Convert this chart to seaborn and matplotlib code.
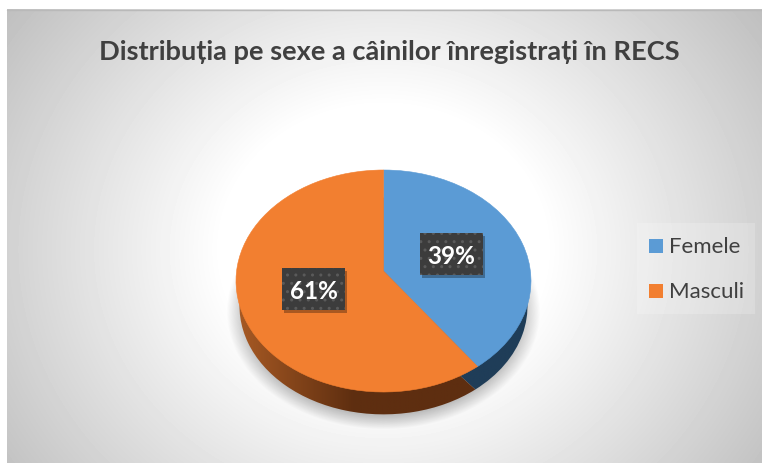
import numpy as np
import seaborn as sns
import matplotlib.pyplot as plt
from matplotlib.patches import PathPatch, Rectangle
from matplotlib.path import Path

# Datos del grafico
categorias = ['Femele', 'Masculi']
valores = [39, 61]
titulo = 'Distribuția pe sexe a câinilor înregistrați în RECS'

colores = sns.color_palette(['#5B9BD5', '#F27F30'])
W, H = 762, 464

sns.set_theme(style='white')
plt.rcParams['font.family'] = ['Lato', 'Open Sans', 'DejaVu Sans']
plt.rcParams['hatch.linewidth'] = 1.0

fig = plt.figure(figsize=(W / 100, H / 100), dpi=100, facecolor='white')

# Fondo con degradado radial
bg = fig.add_axes([0, 0, 1, 1])
bg.axis('off')
xx, yy = np.meshgrid(np.arange(7, W), np.arange(10, H))
t = np.sqrt(((xx - 383) / 385) ** 2 + ((yy - 250) / 340) ** 2)
g = 1 - 0.25 * np.clip((t - 0.42) / 0.786, 0, 1)
bg.imshow(g, extent=[7, W, H, 10], cmap='gray', vmin=0, vmax=1, aspect='auto', zorder=0)
bg.plot([7, W], [10.5, 10.5], color='#b9b9b9', lw=1, zorder=1)

# Sombra suave debajo de la torta
sx, sy = np.meshgrid(np.arange(200, 560), np.arange(250, 450))
d = np.sqrt(((sx - 383) / 157) ** 2 + ((sy - 312) / 118) ** 2)
sombra = np.zeros(d.shape + (4,))
sombra[..., 3] = 0.25 * np.clip((1.0 - d) / 0.12, 0, 1) * np.clip((sy - 262) / 30, 0, 1)
bg.imshow(sombra, extent=[200, 560, 450, 250], aspect='auto', zorder=2)
bg.set_xlim(0, W)
bg.set_ylim(H, 0)

# Torta: elipse superior, rx=147.5 ry=111
cx, cy, rx, ry = 383.5, 282, 147.5, 111
ax = fig.add_axes([(cx - rx) / W, 1 - (cy + ry) / H, 2 * rx / W, 2 * ry / H])
ax.patch.set_alpha(0)

# Pared lateral: elipse inferior algo mas estrecha
lados, _ = ax.pie(valores, colors=colores, startangle=90, counterclock=False,
                  center=(0, -25 / ry), radius=144 / rx, wedgeprops={'clip_on': False, 'lw': 0})
caras, _ = ax.pie(valores, colors=colores, startangle=90, counterclock=False,
                  radius=1, wedgeprops={'clip_on': False, 'lw': 0})
ax.set_aspect('auto')

gx = np.linspace(-1, 1, 300)[None, :]
naranja = np.interp(gx, [-1, -0.2, 1], [0, 1, 1])
azul = np.full(gx.shape, 1.0)
tonos = [(azul, '#1F3D58', '#1F3D58'), (naranja, '#A85A24', '#5E2E10')]
for lado, (grad, c0, c1) in zip(lados, tonos):
    cmap = sns.blend_palette([c0, c1], as_cmap=True)
    im = ax.imshow(grad, extent=[-1, 1, -1.3, 1], cmap=cmap, vmin=0, vmax=1,
                   aspect='auto', zorder=1)
    im.set_clip_box(fig.bbox)
    im.set_clip_path(lado)
    lado.set_visible(False)
ax.set_xlim(-1, 1)
ax.set_ylim(-1, 1)

# Cara superior con el vertice desplazado (perspectiva)
vertice = (0, 10 / ry)
for cara, color in zip(caras, colores):
    p = cara.get_path()
    v = cara.get_patch_transform().transform(p.vertices)
    v[np.all(np.isclose(v, 0, atol=1e-9), axis=1)] = vertice
    ax.add_patch(PathPatch(Path(v, p.codes), fc=color, ec=color, lw=0.4, zorder=3, clip_on=False))
    cara.set_visible(False)

# Etiquetas de datos
over = fig.add_axes([0, 0, 1, 1])
over.set_xlim(0, W)
over.set_ylim(H, 0)
over.axis('off')
over.patch.set_alpha(0)
posiciones = [(420, 234), (282, 269)]
for val, (x0, y0) in zip(valores, posiciones):
    over.add_patch(Rectangle((x0 + 2, y0 + 3), 63, 42, fc='black', alpha=0.3, lw=0, zorder=4))
    over.add_patch(Rectangle((x0, y0), 63, 42, fc='#3C3C3C', ec='#5A5A5A', hatch='..', lw=0, zorder=5))
    over.text(x0 + 31.5, y0 + 23, f'{val}%', color='white', fontsize=17.5, fontweight='bold',
              ha='center', va='center', zorder=6)

over.text(389, 52, titulo, color='#404040', fontsize=19.6, fontweight='bold', ha='center', va='center')

# Leyenda
over.add_patch(Rectangle((637, 224), 118, 91, fc='white', alpha=0.2, lw=0, zorder=1))
for i, (nombre, color) in enumerate(zip(categorias, colores)):
    y = 247 + 45 * i
    over.add_patch(Rectangle((649, y - 7), 14, 14, fc=color, lw=0, zorder=2))
    over.text(669, y, nombre, color='#404040', fontsize=16, ha='left', va='center', zorder=2)

fig.savefig('out.png', dpi=100)
